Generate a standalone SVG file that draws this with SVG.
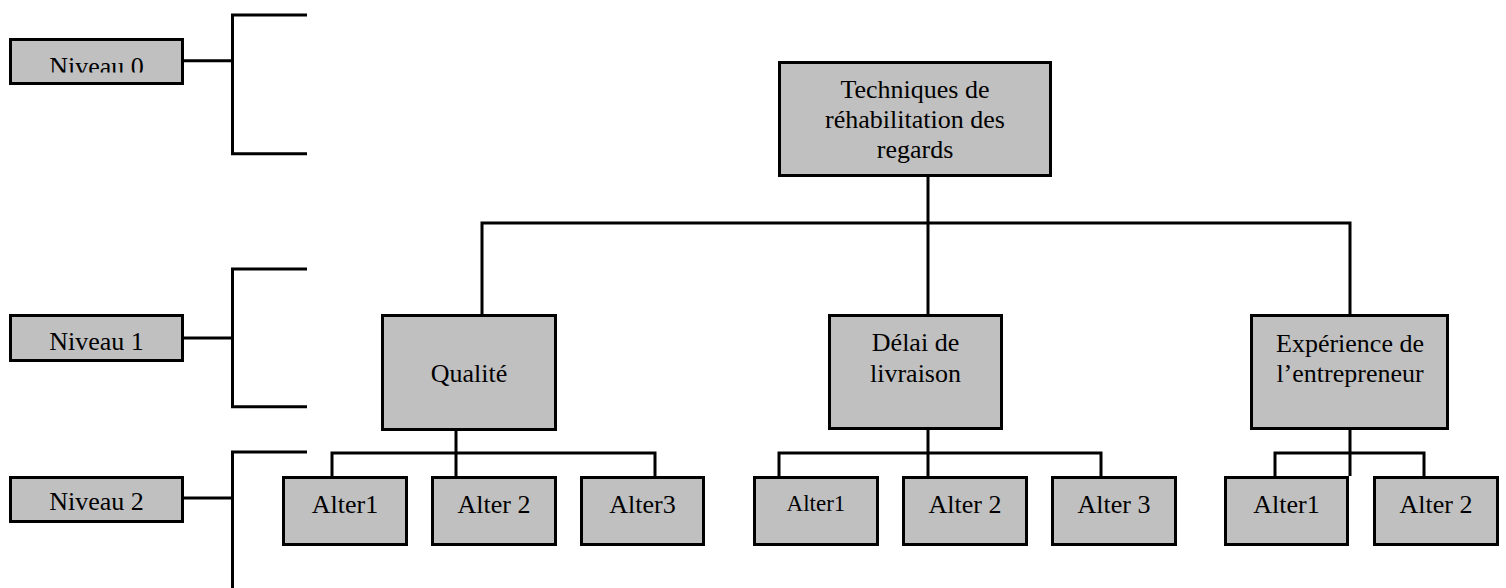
<svg xmlns="http://www.w3.org/2000/svg" width="1506" height="588" viewBox="0 0 1506 588">
<style>
.box{fill:#c0c0c0;stroke:#000;stroke-width:3}
.ln{fill:none;stroke:#000;stroke-width:3;stroke-linejoin:miter;stroke-linecap:butt}
text{font-family:"Liberation Serif","Times New Roman",serif;font-size:26px;fill:#000;text-anchor:middle}
.sm{font-size:23px}
</style>
<defs>
<clipPath id="clip0"><rect x="0" y="0" width="200" height="72.5"/></clipPath>
</defs>
<rect width="1506" height="588" fill="#fff"/>
<g id="connectors" class="ln">
<path d="M184 60.7H232.5M307 15H232.5V153.7H307"/>
<path d="M184 338H232.5M307 269H232.5V406.7H307"/>
<path d="M184 498H232.5M307 452H232.5V588"/>
<path d="M928 177V223M482 314V223H1350V314M928 223V314"/>
<path d="M456 431V453M332 476V453H655V476M456 453V476"/>
<path d="M928 430V453M779 476V453H1101V476M928 453V476"/>
<path d="M1350 430V453M1275 476V453H1424V476M1350 453V476"/>
</g>
<g id="niveau0"><rect class="box" x="10.5" y="39.5" width="172" height="44"/><text x="96.5" y="74.6" clip-path="url(#clip0)">Niveau 0</text></g>
<g id="niveau1"><rect class="box" x="10.5" y="315.5" width="172" height="45"/><text x="96.5" y="350">Niveau 1</text></g>
<g id="niveau2"><rect class="box" x="10.5" y="477.5" width="172" height="44"/><text x="96.5" y="510">Niveau 2</text></g>
<g id="root"><rect class="box" x="779.5" y="62.5" width="271" height="113"/><text x="915" y="98.3">Techniques de</text><text x="915" y="128.3">réhabilitation des</text><text x="915" y="158.3">regards</text></g>
<g id="qualite"><rect class="box" x="382.5" y="315.5" width="173" height="114"/><text x="469" y="381.7">Qualité</text></g>
<g id="delai"><rect class="box" x="829.5" y="315.5" width="172" height="113"/><text x="915.5" y="350.7">Délai de</text><text x="915.5" y="381.7">livraison</text></g>
<g id="experience"><rect class="box" x="1251.5" y="315.5" width="196" height="113"/><text x="1350" y="351.7">Expérience de</text><text x="1350" y="381.7">l’entrepreneur</text></g>
<g id="q-alter1"><rect class="box" x="283.5" y="477.5" width="123" height="67"/><text x="345" y="513.3">Alter1</text></g>
<g id="q-alter2"><rect class="box" x="432.5" y="477.5" width="123" height="67"/><text x="494" y="513.3">Alter 2</text></g>
<g id="q-alter3"><rect class="box" x="581.5" y="477.5" width="122" height="67"/><text x="642.5" y="513.3">Alter3</text></g>
<g id="d-alter1"><rect class="box" x="754.5" y="477.5" width="123" height="67"/><text class="sm" x="816" y="511">Alter1</text></g>
<g id="d-alter2"><rect class="box" x="903.5" y="477.5" width="123" height="67"/><text x="965" y="513.3">Alter 2</text></g>
<g id="d-alter3"><rect class="box" x="1052.5" y="477.5" width="123" height="67"/><text x="1114" y="513.3">Alter 3</text></g>
<g id="e-alter1"><rect class="box" x="1225.5" y="477.5" width="122" height="67"/><text x="1286.5" y="513.3">Alter1</text></g>
<g id="e-alter2"><rect class="box" x="1374.5" y="477.5" width="123" height="67"/><text x="1436" y="513.3">Alter 2</text></g>
</svg>
